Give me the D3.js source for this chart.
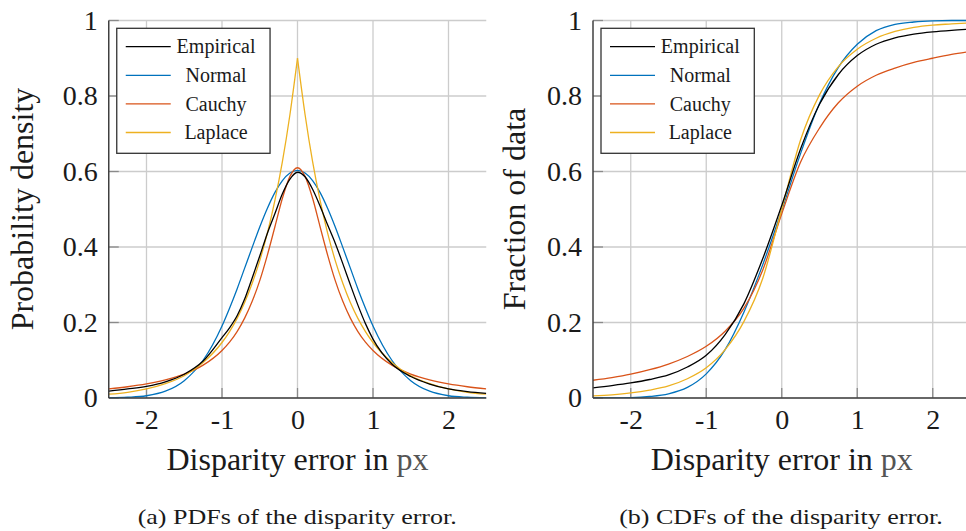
<!DOCTYPE html>
<html>
<head>
<meta charset="utf-8">
<script src="https://cdn.jsdelivr.net/npm/d3@7"></script>
<style>
  body { margin: 0; background: #fff; }
  svg { display: block; }
</style>
</head>
<body>
<svg id="fig" width="966" height="531"></svg>
<script>
// ---- data ---------------------------------------------------------
const seriesNames  = ["Empirical", "Normal", "Cauchy", "Laplace"];
const seriesColors = ["#000000", "#0072BD", "#D95319", "#EDB120"];

// (a) probability densities
const pdfX = [-2.5, -2.25, -2, -1.75, -1.5, -1.25,
  -1, -0.9, -0.8, -0.7, -0.6, -0.5, -0.4, -0.3, -0.2, -0.1, 0,
  0.1, 0.2, 0.3, 0.4, 0.5, 0.6, 0.7, 0.8, 0.9, 1,
  1.25, 1.5, 1.75, 2, 2.25, 2.5];
const pdfEmpirical = [0.018, 0.024, 0.031, 0.043, 0.063, 0.098,
  0.160, 0.186, 0.218, 0.262, 0.318, 0.376, 0.436, 0.488, 0.541, 0.580, 0.598,
  0.586, 0.553, 0.508, 0.458, 0.410, 0.356, 0.300, 0.246, 0.197, 0.156,
  0.090, 0.057, 0.037, 0.024, 0.017, 0.0125];
const pdfNormal = [0.0005, 0.002, 0.006, 0.018, 0.046, 0.100,
  0.191, 0.238, 0.289, 0.344, 0.399, 0.453, 0.502, 0.544, 0.576, 0.596, 0.603,
  0.596, 0.576, 0.544, 0.502, 0.453, 0.399, 0.344, 0.289, 0.238, 0.191,
  0.100, 0.046, 0.018, 0.006, 0.002, 0.0005];
const pdfCauchy = [0.0244, 0.0298, 0.0372, 0.0478, 0.0632, 0.087,
  0.126, 0.148, 0.176, 0.2115, 0.256, 0.311, 0.378, 0.453, 0.529, 0.587, 0.610,
  0.587, 0.529, 0.453, 0.378, 0.311, 0.256, 0.2115, 0.176, 0.148, 0.126,
  0.087, 0.0632, 0.0478, 0.0372, 0.0298, 0.0244];
const pdfLaplace = [0.010, 0.015, 0.024, 0.038, 0.059, 0.094,
  0.147, 0.176, 0.211, 0.253, 0.304, 0.364, 0.436, 0.523, 0.626, 0.751, 0.900,
  0.751, 0.626, 0.523, 0.436, 0.364, 0.304, 0.253, 0.211, 0.176, 0.147,
  0.094, 0.059, 0.038, 0.024, 0.015, 0.010];

// (b) cumulative distributions
const cdfX = [-2.5, -2.25, -2, -1.75, -1.5, -1.25, -1, -0.75, -0.5, -0.25, 0,
  0.25, 0.5, 0.75, 1, 1.25, 1.5, 1.75, 2, 2.25, 2.5];
const cdfEmpirical = [0.027, 0.033, 0.040, 0.049, 0.061, 0.082, 0.113, 0.168, 0.250, 0.370, 0.510,
  0.660, 0.778, 0.857, 0.907, 0.937, 0.954, 0.964, 0.970, 0.974, 0.977];
const cdfNormal = [0.0001, 0.0003, 0.001, 0.004, 0.011, 0.028, 0.064, 0.128, 0.228, 0.354, 0.497,
  0.648, 0.780, 0.876, 0.937, 0.973, 0.990, 0.996, 0.999, 1.0, 1.0];
const cdfCauchy = [0.047, 0.054, 0.063, 0.075, 0.090, 0.110, 0.137, 0.177, 0.238, 0.340, 0.488,
  0.625, 0.715, 0.782, 0.826, 0.855, 0.874, 0.889, 0.900, 0.910, 0.918];
const cdfLaplace = [0.0054, 0.0085, 0.0134, 0.021, 0.032, 0.051, 0.080, 0.128, 0.203, 0.318, 0.500,
  0.684, 0.803, 0.878, 0.924, 0.953, 0.971, 0.982, 0.988, 0.991, 0.994];

const xTicks = [-2, -1, 0, 1, 2];
const yTicks = [0, 0.2, 0.4, 0.6, 0.8, 1];

// ---- drawing -------------------------------------------------------
const svg = d3.select("#fig");
const FONT = "'Liberation Serif', 'Times New Roman', serif";
const TXT = "#1a1a1a";

let _clip = 0;

function drawPanel({ left, xs, series, yLabel, yLabelX, caption, captionX, captionLen, cusp }) {
  const x = d3.scaleLinear().domain([-2.5, 2.5]).range([left, left + 377.5]);
  const y = d3.scaleLinear().domain([0, 1]).range([398, 20.5]);
  const [xa, xb] = x.range();
  const [yb, ya] = y.range();
  const g = svg.append("g");

  // grid
  const grid = g.append("g").attr("stroke", "#cccccc").attr("stroke-width", 1.3);
  grid.selectAll("line.gx").data(xTicks).join("line")
    .attr("x1", d => x(d)).attr("x2", d => x(d))
    .attr("y1", ya).attr("y2", yb);
  grid.selectAll("line.gy").data(yTicks).join("line")
    .attr("x1", xa).attr("x2", xb)
    .attr("y1", d => y(d)).attr("y2", d => y(d));

  // inward ticks
  const ticks = g.append("g").attr("stroke", "#8a8a8a").attr("stroke-width", 1.3);
  ticks.selectAll("line.tx").data(xTicks).join("line")
    .attr("x1", d => x(d)).attr("x2", d => x(d))
    .attr("y1", yb).attr("y2", yb - 10);
  ticks.selectAll("line.ty").data(yTicks).join("line")
    .attr("x1", xa).attr("x2", xa + 10)
    .attr("y1", d => y(d)).attr("y2", d => y(d));

  // curves
  const clipId = `clip-${++_clip}`;
  g.append("clipPath").attr("id", clipId)
    .append("rect").attr("x", xa).attr("y", ya - 2)
    .attr("width", xb - xa).attr("height", yb - ya + 2);
  const line = d3.line().x(d => x(d[0])).y(d => y(d[1])).curve(d3.curveMonotoneX);
  const gc = g.append("g").attr("clip-path", `url(#${clipId})`);
  // draw order: normal, cauchy, laplace, empirical on top
  [1, 2, 3, 0].forEach(i => {
    const pts = xs.map((v, k) => [v, series[i][k]]);
    let parts = [pts];
    if (cusp && i === 3) {
      const m = d3.maxIndex(pts, p => p[1]);
      parts = [pts.slice(0, m + 1), pts.slice(m)];
    }
    parts.forEach(p => gc.append("path")
      .attr("d", line(p))
      .attr("fill", "none")
      .attr("stroke", seriesColors[i])
      .attr("stroke-width", 1.3)
      .attr("stroke-linejoin", "round"));
  });

  // axis lines (left and bottom)
  g.append("line").attr("x1", xa).attr("x2", xa).attr("y1", ya).attr("y2", yb)
    .attr("stroke", "#404040").attr("stroke-width", 1.5);
  g.append("line").attr("x1", xa).attr("x2", xb).attr("y1", yb).attr("y2", yb)
    .attr("stroke", "#404040").attr("stroke-width", 1.5);

  // tick labels
  const yAx = g.append("g").attr("transform", `translate(${xa},0)`)
    .call(d3.axisLeft(y).tickValues(yTicks).tickSize(0).tickPadding(11)
      .tickFormat(d => (d === 0 || d === 1) ? String(d) : d3.format(".1f")(d)));
  const xAx = g.append("g").attr("transform", `translate(0,${yb})`)
    .call(d3.axisBottom(x).tickValues(xTicks).tickSize(0).tickPadding(11)
      .tickFormat(d => (d < 0 ? "-" : "") + Math.abs(d)));
  [yAx, xAx].forEach(a => {
    a.select(".domain").remove();
    a.selectAll("text").attr("font-family", FONT).attr("font-size", 28).attr("fill", TXT);
  });

  // axis titles
  const xt = g.append("text")
    .attr("x", (xa + xb) / 2).attr("y", 470)
    .attr("text-anchor", "middle")
    .attr("font-family", FONT).attr("font-size", 32).attr("fill", TXT);
  xt.append("tspan").text("Disparity error in ");
  xt.append("tspan").attr("fill", "#555").text("px");

  g.append("text")
    .attr("transform", `translate(${yLabelX},209) rotate(-90)`)
    .attr("text-anchor", "middle")
    .attr("font-family", FONT).attr("font-size", 32).attr("fill", TXT)
    .text(yLabel);

  // caption
  g.append("text")
    .attr("x", captionX).attr("y", 524)
    .attr("text-anchor", "middle")
    .attr("font-family", FONT).attr("font-size", 22).attr("fill", TXT)
    .attr("textLength", captionLen).attr("lengthAdjust", "spacingAndGlyphs")
    .text(caption);

  // legend
  const lx = xa + 8, ly = 28.3;
  const lg = g.append("g");
  lg.append("rect").attr("x", lx).attr("y", ly).attr("width", 153.3).attr("height", 125)
    .attr("fill", "#fff").attr("stroke", "#333").attr("stroke-width", 1.3);
  seriesNames.forEach((name, i) => {
    const yy = ly + 18.4 + i * 28.6;
    lg.append("line").attr("x1", lx + 9).attr("x2", lx + 54).attr("y1", yy).attr("y2", yy)
      .attr("stroke", seriesColors[i]).attr("stroke-width", 1.3);
    lg.append("text").attr("x", lx + 99.3).attr("y", yy + 6.7)
      .attr("text-anchor", "middle")
      .attr("font-family", FONT).attr("font-size", 20).attr("fill", TXT)
      .text(name);
  });
}

drawPanel({
  left: 108.75, xs: pdfX,
  series: [pdfEmpirical, pdfNormal, pdfCauchy, pdfLaplace],
  yLabel: "Probability density", yLabelX: 33.3,
  caption: "(a) PDFs of the disparity error.", captionX: 297.2, captionLen: 319,
  cusp: true
});
drawPanel({
  left: 593, xs: cdfX,
  series: [cdfEmpirical, cdfNormal, cdfCauchy, cdfLaplace],
  yLabel: "Fraction of data", yLabelX: 525,
  caption: "(b) CDFs of the disparity error.", captionX: 781, captionLen: 323.7,
  cusp: false
});
</script>
</body>
</html>
